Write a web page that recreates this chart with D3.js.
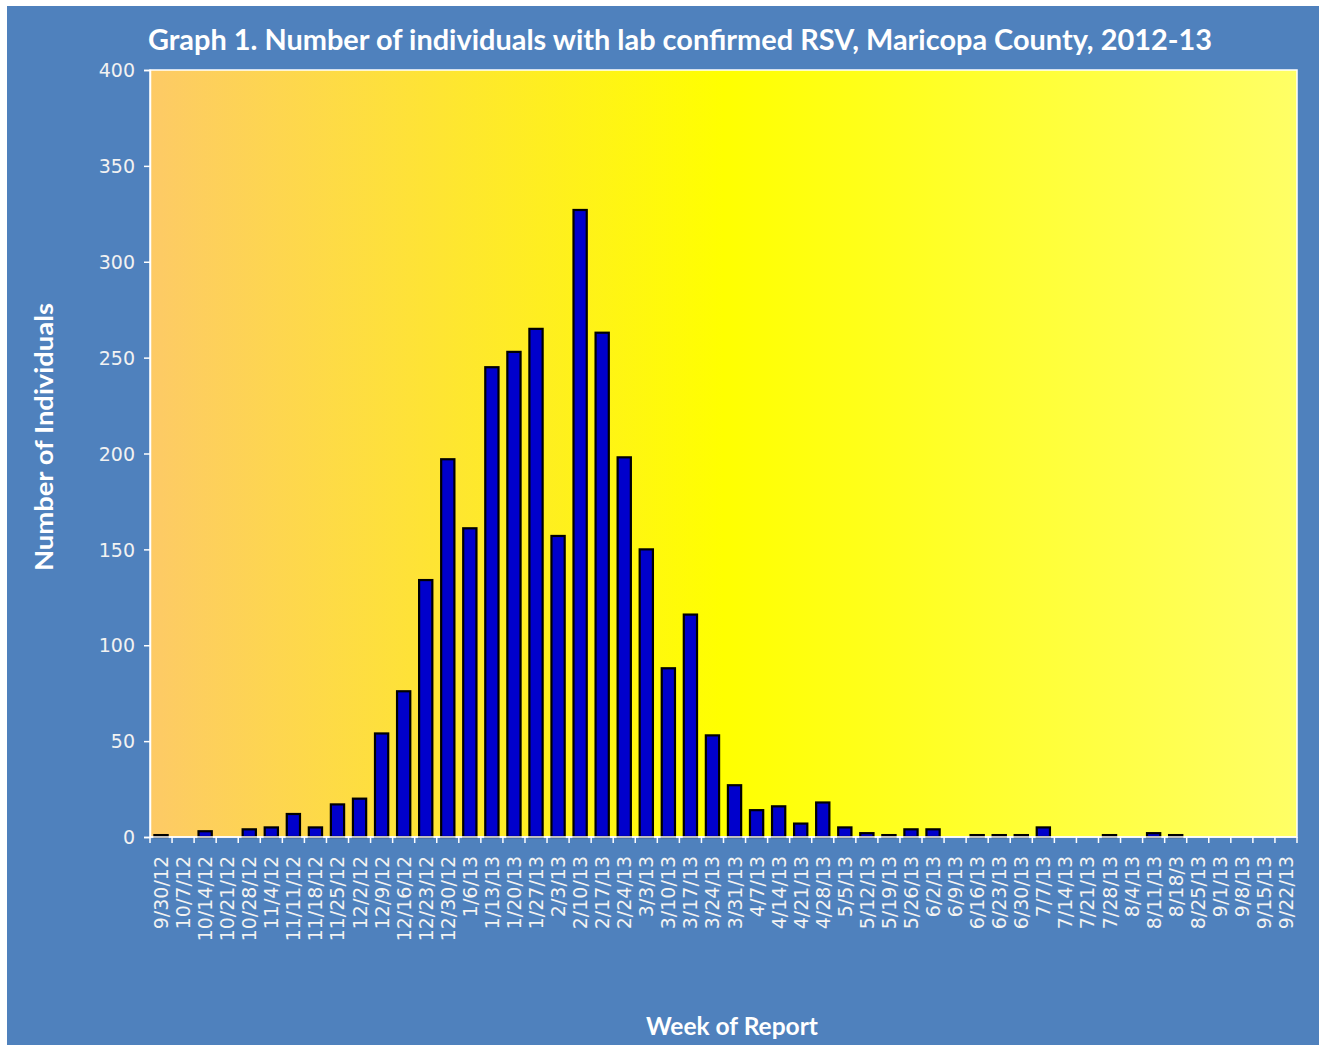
<html>
<head>
  <script src="https://d3js.org/d3.v7.min.js"></script>
  <style>
    body { margin: 0; background: #fff; }
    .tick-label { font-family: "DejaVu Sans", sans-serif; font-size: 19px; fill: #f2f2f2; }
    .title { font-family: Lato, "Open Sans", sans-serif; font-weight: bold; fill: #fff; }
  </style>
</head>
<body>
  <svg id="chart" width="1324" height="1045"></svg>
  <script>
    const weeks = ["9/30/12", "10/7/12", "10/14/12", "10/21/12", "10/28/12", "11/4/12", "11/11/12",
      "11/18/12", "11/25/12", "12/2/12", "12/9/12", "12/16/12", "12/23/12", "12/30/12", "1/6/13",
      "1/13/13", "1/20/13", "1/27/13", "2/3/13", "2/10/13", "2/17/13", "2/24/13", "3/3/13", "3/10/13",
      "3/17/13", "3/24/13", "3/31/13", "4/7/13", "4/14/13", "4/21/13", "4/28/13", "5/5/13", "5/12/13",
      "5/19/13", "5/26/13", "6/2/13", "6/9/13", "6/16/13", "6/23/13", "6/30/13", "7/7/13", "7/14/13",
      "7/21/13", "7/28/13", "8/4/13", "8/11/13", "8/18/3", "8/25/13", "9/1/13", "9/8/13", "9/15/13",
      "9/22/13"];
    const cases = [1, 0, 3, 0, 4, 5, 12, 5, 17, 20, 54, 76, 134, 197, 161, 245, 253, 265, 157, 327,
      263, 198, 150, 88, 116, 53, 27, 14, 16, 7, 18, 5, 2, 1, 4, 4, 0, 1, 1, 1, 5, 0, 0, 1, 0, 2, 1,
      0, 0, 0, 0, 0];
    const yTicks = [0, 50, 100, 150, 200, 250, 300, 350, 400];

    const svg = d3.select("svg#chart");
    const plot = { left: 150, right: 1297, top: 70, bottom: 837 };

    // blue frame
    svg.append("rect").attr("x", 7).attr("y", 6).attr("width", 1312).attr("height", 1039)
      .attr("fill", "#4f81bd");

    const grad = svg.append("defs").append("linearGradient").attr("id", "bg")
      .attr("x1", "0%").attr("x2", "100%").attr("y1", "0%").attr("y2", "0%");
    grad.append("stop").attr("offset", "0%").attr("stop-color", "#fdca66");
    grad.append("stop").attr("offset", "50%").attr("stop-color", "#ffff00");
    grad.append("stop").attr("offset", "100%").attr("stop-color", "#ffff66");

    svg.append("rect").attr("x", plot.left).attr("y", plot.top)
      .attr("width", plot.right - plot.left).attr("height", plot.bottom - plot.top)
      .attr("fill", "url(#bg)").attr("stroke", "#fff").attr("stroke-width", 1.5);

    const x = d3.scaleBand().domain(weeks).range([plot.left, plot.right]).paddingInner(0.4).paddingOuter(0.2);
    const y = d3.scaleLinear().domain([0, 400]).range([plot.bottom, plot.top]);

    svg.append("g").selectAll("rect")
      .data(weeks)
      .join("rect")
      .attr("x", d => x(d))
      .attr("width", x.bandwidth())
      .attr("y", (d, i) => y(cases[i]))
      .attr("height", (d, i) => y(0) - y(cases[i]))
      .attr("fill", "#0000cc")
      .attr("stroke", "#000")
      .attr("stroke-width", 2.2);

    // y axis
    const yAxis = svg.append("g").attr("transform", `translate(${plot.left},0)`)
      .call(d3.axisLeft(y).tickValues(yTicks).tickSize(6).tickPadding(9));
    yAxis.select(".domain").attr("stroke", "#fff").attr("stroke-width", 1.5);
    yAxis.selectAll(".tick line").attr("stroke", "#fff").attr("stroke-width", 1.5);
    yAxis.selectAll(".tick text").attr("class", "tick-label").attr("dy", "0.35em");

    // x axis: ticks at band boundaries
    const xg = svg.append("g");
    xg.append("line").attr("x1", plot.left).attr("x2", plot.right)
      .attr("y1", plot.bottom).attr("y2", plot.bottom).attr("stroke", "#fff").attr("stroke-width", 1.5);
    xg.selectAll("line.tk").data(d3.range(weeks.length + 1)).join("line").attr("class", "tk")
      .attr("x1", i => plot.left + i * (plot.right - plot.left) / weeks.length)
      .attr("x2", i => plot.left + i * (plot.right - plot.left) / weeks.length)
      .attr("y1", plot.bottom).attr("y2", plot.bottom + 6)
      .attr("stroke", "#fff").attr("stroke-width", 1.5);
    xg.selectAll("text").data(weeks).join("text")
      .attr("class", "tick-label")
      .attr("transform", d => `translate(${x(d) + x.bandwidth() / 2 + 7},${plot.bottom + 19}) rotate(-90)`)
      .attr("text-anchor", "end")
      .text(d => d);

    svg.append("text").attr("class", "title")
      .attr("x", 148).attr("y", 50)
      .attr("font-size", 28)
      .attr("textLength", 1064).attr("lengthAdjust", "spacingAndGlyphs")
      .text("Graph 1. Number of individuals with lab confirmed RSV, Maricopa County, 2012-13");

    svg.append("text").attr("class", "title")
      .attr("transform", "translate(53,437) rotate(-90)")
      .attr("text-anchor", "middle").attr("font-size", 25)
      .attr("textLength", 268).attr("lengthAdjust", "spacingAndGlyphs")
      .text("Number of Individuals");

    svg.append("text").attr("class", "title")
      .attr("x", 732).attr("y", 1035)
      .attr("text-anchor", "middle").attr("font-size", 25)
      .attr("textLength", 172).attr("lengthAdjust", "spacingAndGlyphs")
      .text("Week of Report");
  </script>
</body>
</html>
